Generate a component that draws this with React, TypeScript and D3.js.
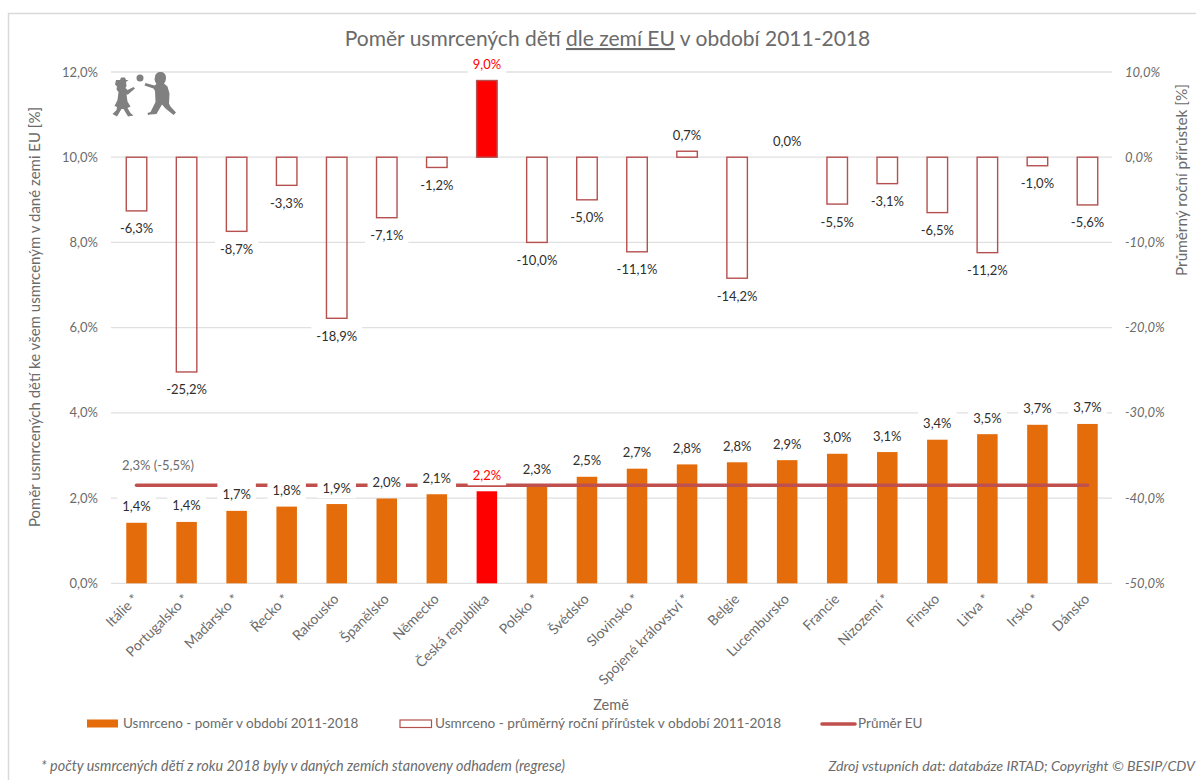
import React from "react";
import * as d3 from "d3";

const countries = ["Itálie *","Portugalsko *","Maďarsko *","Řecko *","Rakousko","Španělsko","Německo","Česká republika","Polsko *","Švédsko","Slovinsko *","Spojené království *","Belgie","Lucembursko","Francie","Nizozemí *","Finsko","Litva *","Irsko *","Dánsko"];
const ratio = [1.42,1.44,1.70,1.80,1.86,1.99,2.09,2.16,2.30,2.50,2.69,2.79,2.84,2.89,3.04,3.08,3.37,3.50,3.72,3.74];
const growth = [-6.3,-25.2,-8.7,-3.3,-18.9,-7.1,-1.2,9.0,-10.0,-5.0,-11.1,0.7,-14.2,0.0,-5.5,-3.1,-6.5,-11.2,-1.0,-5.6];
const euAverage = 2.3;
const euLabel = "2,3% (-5,5%)";
const highlight = "Česká republika";
const leftTicks = [0,2,4,6,8,10,12];
const rightTicks = [-50,-40,-30,-20,-10,0,10];

const FONT = "Lato, 'Open Sans', sans-serif";
const GRAY = "#6b6b6b";
const LABEL = "#2e2e2e";
const ORANGE = "#E46C0A";
const RED = "#FF0000";
const OUTLINE = "#B5504E";
const LINE = "#C0504D";
const GRID = "#E0E0E0";

const fmt = (v: number) => d3.format(".1f")(v).replace(".", ",").replace("\u2212", "-") + "%";

const measure = (() => {
  const ctx = document.createElement("canvas").getContext("2d")!;
  return (t: string, size: number) => {
    ctx.font = `${size}px Lato`;
    return ctx.measureText(t).width;
  };
})();

export default function App() {
  const x = d3.scaleBand<string>().domain(countries).range([111.5, 1112.5]).paddingInner(0.59).paddingOuter(0.295);
  const yL = d3.scaleLinear().domain([0, 12]).range([583.3, 72]);
  const yR = d3.scaleLinear().domain([-50, 10]).range([583.3, 72]);
  const cx = (c: string) => x(c)! + x.bandwidth() / 2;
  const line = d3.line<string>().x(cx).y(() => yL(euAverage));

  const labels: { c: string; y: number; t: string; col: string }[] = [];
  countries.forEach((c, i) => {
    const col = c === highlight ? RED : LABEL;
    labels.push({ c, y: yL(ratio[i]) - 17, t: fmt(ratio[i]), col });
    const g = growth[i];
    labels.push({ c, y: yR(g) + (g < 0 ? 17 : -17), t: fmt(g), col });
  });

  return (
    <svg width={1196} height={780} style={{ position: "fixed", left: 0, top: 0, display: "block", background: "#fff" }} fontFamily={FONT}>
      <path d="M8.5 780V13.5H1196" fill="none" stroke="#D9D9D9" strokeWidth={1.5} />

      <text x={607.5} y={46} textAnchor="middle" fontSize={21} fill={GRAY}>
        Poměr usmrcených dětí <tspan textDecoration="underline">dle zemí EU</tspan> v období 2011-2018
      </text>

      {leftTicks.map((t) => (
        <line key={t} x1={111} x2={1112} y1={yL(t)} y2={yL(t)} stroke={GRID} strokeWidth={1.3} />
      ))}
      {leftTicks.map((t) => (
        <text key={t} x={98} y={yL(t) + 4.5} textAnchor="end" fontSize={13} fill={GRAY}>{fmt(t)}</text>
      ))}
      {rightTicks.map((t) => (
        <text key={t} x={1125} y={yR(t) + 4.5} fontSize={13} fontStyle="italic" fill={GRAY}>{fmt(t)}</text>
      ))}

      <text transform="translate(40,317) rotate(-90)" textAnchor="middle" fontSize={15} fill={GRAY}>
        Poměr usmrcených dětí ke všem usmrceným v dané zemi EU [%]
      </text>
      <text transform="translate(1187,180) rotate(-90)" textAnchor="middle" fontSize={15.300} fill={GRAY}>
        Průměrný roční přírůstek [%]
      </text>

      {/* children pictogram */}
      <g fill="#808080">
        <circle cx={140} cy={78} r={3.5} />
        <path d="M116 80h4l1-2.500h4l1 2.500h2.500l-2.500 2 .5 4 -1 2 2 2 6-3 1.500 1.500 -7 6 -1.500 0 1 7 3 5 -3 1.500 3 5 3 2.500 -5.500 1 -4.500 -7.500 -2 0 -4.500 7.500 -4.500 -2.500 4 -4 0.500 -3 -2.500 -1 3 -6 1 -8 -2 -2.500 .5 -3 -2 -2z" />
        <path d="M155 77c0-3 2.500-5 5.500-5s5.500 2 5.500 5.500c0 3-1 5-2 6l3.500 3 2 7 -.5 10 1.500 3 5.500 6 -2.500 2.500 -8 -6.500 -3.500 -4 -5.500 9.500 -6 .5 -2.500 .5 -.5 -2 3 -1 5 -10 -.5 -11 -1.500 -2.500 -9 -3 1 -2.500 9 2.500 2 -1.500 -1 -1.500 -1 -3z" />
      </g>

      {countries.map((c, i) => (
        <rect key={c} x={x(c)} y={yL(ratio[i])} width={x.bandwidth()} height={yL(0) - yL(ratio[i])} fill={c === highlight ? RED : ORANGE} />
      ))}
      {countries.map((c, i) => {
        const g = growth[i];
        if (g === 0) return null;
        return (
          <rect key={c} x={x(c)} y={yR(Math.max(g, 0))} width={x.bandwidth()} height={Math.abs(yR(g) - yR(0))}
            fill={c === highlight ? RED : "none"} stroke={OUTLINE} strokeWidth={1.4} />
        );
      })}

      <path d={line(countries)!} fill="none" stroke={LINE} strokeWidth={3.6} strokeLinecap="round" />

      {labels.map((l, i) => {
        const w = measure(l.t, 13) + 10;
        return <rect key={i} x={cx(l.c) - w / 2} y={l.y - 11} width={w} height={22} fill="#fff" />;
      })}
      {labels.map((l, i) => (
        <text key={i} x={cx(l.c)} y={l.y + 5.5} textAnchor="middle" fontSize={13} fill={l.col}>{l.t}</text>
      ))}
      <text x={158} y={469.500} textAnchor="middle" fontSize={13} fill={GRAY}>{euLabel}</text>

      {countries.map((c) => (
        <text key={c} transform={`translate(${cx(c) + 3},600) rotate(-45)`} textAnchor="end" fontSize={14} fill={GRAY}>{c}</text>
      ))}

      <text x={611} y={710} textAnchor="middle" fontSize={14.5} fill={GRAY}>Země</text>

      <rect x={87} y={719.500} width={31} height={8} fill={ORANGE} />
      <text x={123} y={727.500} fontSize={13.5} fill={GRAY}>Usmrceno - poměr v období 2011-2018</text>
      <rect x={400} y={720} width={31.500} height={7.500} fill="#fff" stroke={OUTLINE} strokeWidth={1.2} />
      <text x={435} y={727.500} fontSize={13.6} fill={GRAY}>Usmrceno - průměrný roční přírůstek v období 2011-2018</text>
      <line x1={822} x2={855} y1={724} y2={724} stroke={LINE} strokeWidth={3.6} strokeLinecap="round" />
      <text x={858} y={727.500} fontSize={13.5} fill={GRAY}>Průměr EU</text>

      <text x={41} y={770.500} fontSize={14.4} fontStyle="italic" fill={GRAY}>* počty usmrcených dětí z roku 2018 byly v daných zemích stanoveny odhadem (regrese)</text>
      <text x={1195} y={770.500} textAnchor="end" fontSize={14.2} fontStyle="italic" fill={GRAY}>Zdroj vstupních dat: databáze IRTAD; Copyright © BESIP/CDV</text>
    </svg>
  );
}
